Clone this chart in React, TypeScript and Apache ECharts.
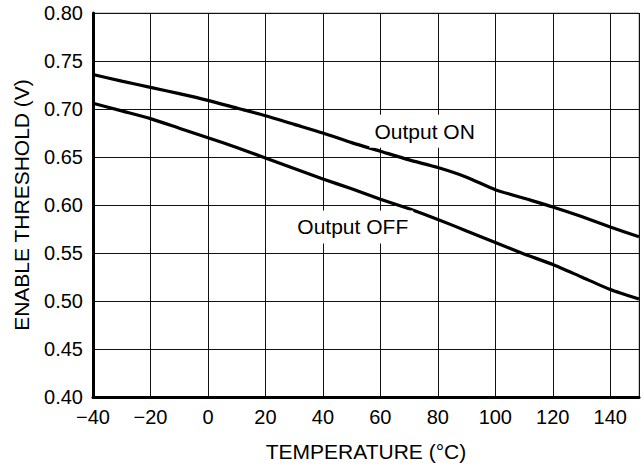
import React, { useEffect, useRef } from "react";
import * as echarts from "echarts";

const temps = [-40, -30, -20, -10, 0, 10, 20, 30, 40, 50, 60, 70, 80, 90, 100, 110, 120, 130, 140, 150];
const outputOn = [0.736, 0.729, 0.7225, 0.716, 0.709, 0.701, 0.693, 0.684, 0.675, 0.665, 0.656, 0.647, 0.639, 0.629, 0.616, 0.607, 0.598, 0.588, 0.577, 0.567];
const outputOff = [0.706, 0.698, 0.69, 0.68, 0.67, 0.66, 0.649, 0.638, 0.627, 0.617, 0.606, 0.596, 0.585, 0.573, 0.561, 0.549, 0.538, 0.525, 0.512, 0.502];
const labels = [
  { name: "Output ON", coord: [75.4, 0.6767] },
  { name: "Output OFF", coord: [50.4, 0.5771] },
];

const FONT = "'Liberation Sans', Arial, Helvetica, sans-serif";

export default function App() {
  const ref = useRef<HTMLDivElement>(null);
  useEffect(() => {
    if (!ref.current) return;
    const chart = echarts.init(ref.current, null, { renderer: "svg" });
    chart.setOption({
      animation: false,
      backgroundColor: "#fff",
      textStyle: { fontFamily: FONT },
      grid: {
        left: 93,
        right: 5,
        top: 13,
        bottom: 70,
        show: true,
        borderColor: "#999",
        borderWidth: 1,
      },
      xAxis: {
        type: "value",
        min: -40,
        max: 150,
        interval: 20,
        name: "TEMPERATURE (°C)",
        nameLocation: "middle",
        nameGap: 44,
        nameTextStyle: { fontSize: 21, color: "#000", fontFamily: FONT },
        axisLine: { show: true, onZero: false, lineStyle: { color: "#000", width: 3 } },
        axisTick: { show: false },
        axisLabel: {
          fontSize: 20,
          color: "#000",
          fontFamily: FONT,
          margin: 10,
          showMaxLabel: false,
          formatter: (v: number) => (v === 150 ? "" : v < 0 ? "\u2212" + Math.abs(v) : String(v)),
        },
        splitLine: { show: true, lineStyle: { color: "#111", width: 1 } },
      },
      yAxis: {
        type: "value",
        min: 0.4,
        max: 0.8,
        interval: 0.05,
        name: "ENABLE THRESHOLD (V)",
        nameLocation: "middle",
        nameGap: 61,
        nameTextStyle: { fontSize: 21, color: "#000", fontFamily: FONT },
        axisLine: { show: true, onZero: false, lineStyle: { color: "#000", width: 3 } },
        axisTick: { show: false },
        axisLabel: {
          fontSize: 20,
          color: "#000",
          fontFamily: FONT,
          margin: 10,
          formatter: (v: number) => v.toFixed(2),
        },
        splitLine: { show: true, lineStyle: { color: "#111", width: 1 } },
      },
      series: [
        {
          type: "line",
          data: temps.map((t, i) => [t, outputOn[i]]),
          showSymbol: false,
          smooth: 0.2,
          lineStyle: { color: "#000", width: 3.2 },
          z: 3,
        },
        {
          type: "line",
          data: temps.map((t, i) => [t, outputOff[i]]),
          showSymbol: false,
          smooth: 0.2,
          lineStyle: { color: "#000", width: 3.2 },
          z: 3,
          markPoint: {
            symbol: "rect",
            symbolSize: 0,
            silent: true,
            data: labels.map((l) => ({
              coord: l.coord,
              value: l.name,
              label: {
                show: true,
                position: "inside",
                formatter: l.name,
                fontSize: 21,
                color: "#000",
                fontFamily: FONT,
                backgroundColor: "#fff",
                padding: [6, 5],
              },
            })),
          },
        },
      ],
    });
    return () => chart.dispose();
  }, []);
  return (
    <div
      ref={ref}
      style={{ position: "fixed", left: 0, top: 0, width: 644, height: 467 }}
    />
  );
}
